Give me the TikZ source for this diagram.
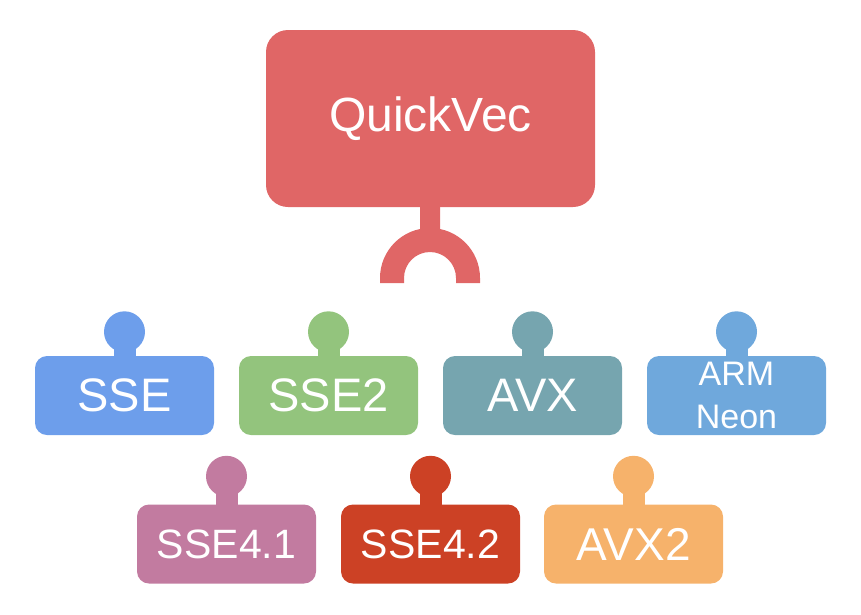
\documentclass[tikz,border=0pt]{standalone}
\usepackage{fontspec}
\setmainfont{Liberation Sans}
\usetikzlibrary{calc,backgrounds}
\definecolor{cmain}{HTML}{E06666}
\definecolor{csse}{HTML}{6D9EEB}
\definecolor{csseb}{HTML}{93C47D}
\definecolor{cavx}{HTML}{76A5AF}
\definecolor{carm}{HTML}{6FA8DC}
\definecolor{cssea}{HTML}{C27BA0}
\definecolor{csseh}{HTML}{CC4125}
\definecolor{cavxb}{HTML}{F6B26B}
\tikzset{
  mainbox/.style={fill=cmain, rounded corners=22pt, minimum width=329pt, minimum height=177pt, inner sep=0pt, text=white, font=\fontsize{48}{54}\selectfont},
  module/.style={fill=#1, rounded corners=12pt, minimum width=179pt, minimum height=79pt, inner sep=0pt, text=white, align=center, font=\fontsize{47}{52}\selectfont},
  knob/.style={fill=#1, circle, minimum size=41pt, inner sep=0pt},
  neck/.style={draw=#1, line width=22pt}
}
\begin{document}
\begin{tikzpicture}[x=1pt,y=-1pt]
\useasboundingbox (0,0) rectangle (861,614);
% main
\node[mainbox] (main) at (430.5,118.5) {QuickVec};
\coordinate (sock) at (430,278);
% modules row 1
\node[module=csse] (sse) at (124.5,395.5) {SSE};
\node[module=csseb] (sseb) at (328.5,395.5) {SSE2};
\node[module=cavx] (avx) at (532.5,395.5) {AVX};
\node[module=carm, font=\fontsize{34}{43}\selectfont] (arm) at (736.5,395.5) {ARM\\Neon};
% modules row 2
\node[module=cssea, font=\fontsize{41}{46}\selectfont] (ssea) at (226.5,544) {SSE4.1};
\node[module=csseh, font=\fontsize{41}{46}\selectfont] (sseh) at (430.5,544) {SSE4.2};
\node[module=cavxb, font=\fontsize{46}{52}\selectfont] (avxb) at (633.5,544) {AVX2};
% knobs
\node[knob=csse] (ksse) at ($(sse.north)+(0,-24)$) {};
\node[knob=csseb] (ksseb) at ($(sseb.north)+(0,-24)$) {};
\node[knob=cavx] (kavx) at ($(avx.north)+(0,-24)$) {};
\node[knob=carm] (karm) at ($(arm.north)+(0,-24)$) {};
\node[knob=cssea] (kssea) at ($(ssea.north)+(0,-28)$) {};
\node[knob=csseh] (ksseh) at ($(sseh.north)+(0,-28)$) {};
\node[knob=cavxb] (kavxb) at ($(avxb.north)+(0,-28)$) {};
\begin{scope}[on background layer]
  \draw[neck=csse] (ksse.center) -- (sse.center);
  \draw[neck=csseb] (ksseb.center) -- (sseb.center);
  \draw[neck=cavx] (kavx.center) -- (avx.center);
  \draw[neck=carm] (karm.center) -- (arm.center);
  \draw[neck=cssea] (kssea.center) -- (ssea.center);
  \draw[neck=csseh] (ksseh.center) -- (sseh.center);
  \draw[neck=cavxb] (kavxb.center) -- (avxb.center);
  % stem of the main box
  \draw[line width=20pt, cmain] (main.center) -- ($(sock)+(0,-40)$);
\end{scope}
% socket
\fill[cmain] ($(sock)+(-50,5)$) -- ($(sock)+(-50,0)$) arc[start angle=180, end angle=360, radius=50]
  -- ($(sock)+(50,5)$) -- ($(sock)+(26,5)$) -- ($(sock)+(26,0)$)
  arc[start angle=0, end angle=-180, radius=26] -- ($(sock)+(-26,5)$) -- cycle;
\end{tikzpicture}
\end{document}
